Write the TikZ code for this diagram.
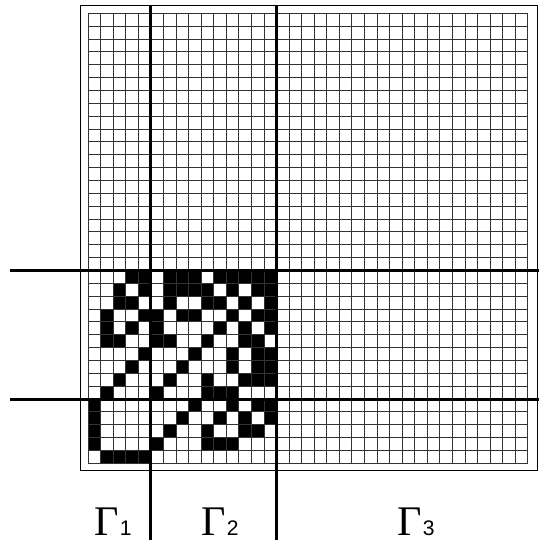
\documentclass[tikz,border=0pt]{standalone}
\usepackage{fontspec}
\setmainfont{Liberation Serif}
\setsansfont{Liberation Sans}
\newcommand{\glab}[1]{{\fontsize{24}{26}\selectfont Γ}\kern0.5pt{\fontsize{12}{13}\selectfont\sffamily #1}}
\begin{document}
\begin{tikzpicture}[x=0.2mm,y=-0.2mm,
        declare function={w=12.57;h=12.86;xa=88;ya=13.3;},
        gridline/.style={line width=0.55pt,black!80},
        cut/.style={line width=1.8pt,black},
        lab/.style={anchor=base,inner sep=0pt}]
        \useasboundingbox (0,0) rectangle (544,543);
        % frame round the grid
        \draw[line width=0.5pt] (80,5) rectangle (537,470);
        % black cells, lower left block (rows 20-34, columns 0-14)
        \foreach \r/\cs in {0/{3,4,6,7,8,10,11,12,13,14},
                1/{2,4,6,7,8,9,11,13,14},
                2/{2,3,6,9,10,12,14},
                3/{1,4,5,7,8,11,13,14},
                4/{1,3,5,10,12,14},
                5/{1,2,5,6,9,12,13},
                6/{4,8,11,13,14},
                7/{3,7,11,13,14},
                8/{2,6,9,12,13,14},
                9/{1,5,9,10,11},
                10/{0,8,11,13,14},
                11/{0,7,10,12,14},
                12/{0,6,9,12,13},
                13/{0,5,9,10,11},
                14/{1,2,3,4}}
            \foreach \c in \cs
                \fill[black] (xa+\c*w,ya+20*h+\r*h) rectangle ++(w,h);
        % 35x35 grid
        \foreach \i in {0,...,35} {
            \draw[gridline] (xa+\i*w,ya) -- (xa+\i*w,ya+35*h);
            \draw[gridline] (xa,ya+\i*h) -- (xa+35*w,ya+\i*h);
        }
        % cut lines
        \coordinate (V1) at (xa+5*w,5);
        \coordinate (V2) at (xa+15*w,5);
        \coordinate (H1) at (10,ya+20*h);
        \coordinate (H2) at (10,ya+30*h);
        \draw[cut] (V1) -- (V1 |- 0,540);
        \draw[cut] (V2) -- (V2 |- 0,540);
        \draw[cut] (H1) -- (H1 -| 539,0);
        \draw[cut] (H2) -- (H2 -| 539,0);
        % labels
        \node[lab] (g1) at (113,535) {\glab{1}};
        \node[lab] (g2) at (220,535) {\glab{2}};
        \node[lab] (g3) at (416,535) {\glab{3}};
\end{tikzpicture}
\end{document}
